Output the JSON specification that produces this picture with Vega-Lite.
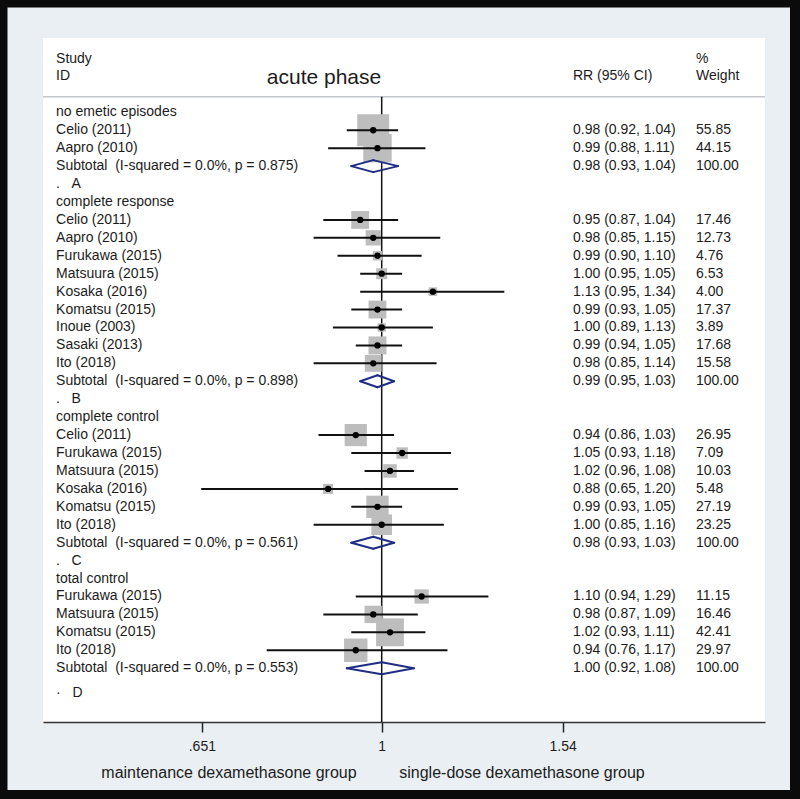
{
  "$schema": "https://vega.github.io/schema/vega-lite/v6.json",
  "width": 722,
  "height": 684,
  "autosize": {"type": "none"},
  "padding": {"left": 43, "top": 38, "right": 35, "bottom": 77},
  "background": "#e9eff3",
  "config": {
    "view": {"fill": "white", "stroke": null},
    "font": "Liberation Sans",
    "text": {"font": "Liberation Sans", "fontSize": 14, "color": "#1c1c1c"}
  },
  "datasets": {
    "one": [{"k": 1}],
    "rows": [
      {"row": 1, "label": "no emetic episodes", "kind": "group"},
      {"row": 2, "label": "Celio (2011)", "kind": "study", "rr": 0.98, "lo": 0.92, "hi": 1.04, "weight": 55.85, "ci": "0.98 (0.92, 1.04)", "wt": "55.85"},
      {"row": 3, "label": "Aapro (2010)", "kind": "study", "rr": 0.99, "lo": 0.88, "hi": 1.11, "weight": 44.15, "ci": "0.99 (0.88, 1.11)", "wt": "44.15"},
      {"row": 4, "label": "Subtotal\u00a0 (I-squared = 0.0%, p = 0.875)", "kind": "subtotal", "rr": 0.98, "lo": 0.93, "hi": 1.04, "weight": 100, "ci": "0.98 (0.93, 1.04)", "wt": "100.00"},
      {"row": 5, "label": ".\u00a0\u00a0\u00a0A", "kind": "blank"},
      {"row": 6, "label": "complete response", "kind": "group"},
      {"row": 7, "label": "Celio (2011)", "kind": "study", "rr": 0.95, "lo": 0.87, "hi": 1.04, "weight": 17.46, "ci": "0.95 (0.87, 1.04)", "wt": "17.46"},
      {"row": 8, "label": "Aapro (2010)", "kind": "study", "rr": 0.98, "lo": 0.85, "hi": 1.15, "weight": 12.73, "ci": "0.98 (0.85, 1.15)", "wt": "12.73"},
      {"row": 9, "label": "Furukawa (2015)", "kind": "study", "rr": 0.99, "lo": 0.90, "hi": 1.10, "weight": 4.76, "ci": "0.99 (0.90, 1.10)", "wt": "4.76"},
      {"row": 10, "label": "Matsuura (2015)", "kind": "study", "rr": 1.00, "lo": 0.95, "hi": 1.05, "weight": 6.53, "ci": "1.00 (0.95, 1.05)", "wt": "6.53"},
      {"row": 11, "label": "Kosaka (2016)", "kind": "study", "rr": 1.13, "lo": 0.95, "hi": 1.34, "weight": 4.00, "ci": "1.13 (0.95, 1.34)", "wt": "4.00"},
      {"row": 12, "label": "Komatsu (2015)", "kind": "study", "rr": 0.99, "lo": 0.93, "hi": 1.05, "weight": 17.37, "ci": "0.99 (0.93, 1.05)", "wt": "17.37"},
      {"row": 13, "label": "Inoue (2003)", "kind": "study", "rr": 1.00, "lo": 0.89, "hi": 1.13, "weight": 3.89, "ci": "1.00 (0.89, 1.13)", "wt": "3.89"},
      {"row": 14, "label": "Sasaki (2013)", "kind": "study", "rr": 0.99, "lo": 0.94, "hi": 1.05, "weight": 17.68, "ci": "0.99 (0.94, 1.05)", "wt": "17.68"},
      {"row": 15, "label": "Ito (2018)", "kind": "study", "rr": 0.98, "lo": 0.85, "hi": 1.14, "weight": 15.58, "ci": "0.98 (0.85, 1.14)", "wt": "15.58"},
      {"row": 16, "label": "Subtotal\u00a0 (I-squared = 0.0%, p = 0.898)", "kind": "subtotal", "rr": 0.99, "lo": 0.95, "hi": 1.03, "weight": 100, "ci": "0.99 (0.95, 1.03)", "wt": "100.00"},
      {"row": 17, "label": ".\u00a0\u00a0\u00a0B", "kind": "blank"},
      {"row": 18, "label": "complete control", "kind": "group"},
      {"row": 19, "label": "Celio (2011)", "kind": "study", "rr": 0.94, "lo": 0.86, "hi": 1.03, "weight": 26.95, "ci": "0.94 (0.86, 1.03)", "wt": "26.95"},
      {"row": 20, "label": "Furukawa (2015)", "kind": "study", "rr": 1.05, "lo": 0.93, "hi": 1.18, "weight": 7.09, "ci": "1.05 (0.93, 1.18)", "wt": "7.09"},
      {"row": 21, "label": "Matsuura (2015)", "kind": "study", "rr": 1.02, "lo": 0.96, "hi": 1.08, "weight": 10.03, "ci": "1.02 (0.96, 1.08)", "wt": "10.03"},
      {"row": 22, "label": "Kosaka (2016)", "kind": "study", "rr": 0.88, "lo": 0.65, "hi": 1.20, "weight": 5.48, "ci": "0.88 (0.65, 1.20)", "wt": "5.48"},
      {"row": 23, "label": "Komatsu (2015)", "kind": "study", "rr": 0.99, "lo": 0.93, "hi": 1.05, "weight": 27.19, "ci": "0.99 (0.93, 1.05)", "wt": "27.19"},
      {"row": 24, "label": "Ito (2018)", "kind": "study", "rr": 1.00, "lo": 0.85, "hi": 1.16, "weight": 23.25, "ci": "1.00 (0.85, 1.16)", "wt": "23.25"},
      {"row": 25, "label": "Subtotal\u00a0 (I-squared = 0.0%, p = 0.561)", "kind": "subtotal", "rr": 0.98, "lo": 0.93, "hi": 1.03, "weight": 100, "ci": "0.98 (0.93, 1.03)", "wt": "100.00"},
      {"row": 26, "label": ".\u00a0\u00a0\u00a0C", "kind": "blank"},
      {"row": 27, "label": "total control", "kind": "group"},
      {"row": 28, "label": "Furukawa (2015)", "kind": "study", "rr": 1.10, "lo": 0.94, "hi": 1.29, "weight": 11.15, "ci": "1.10 (0.94, 1.29)", "wt": "11.15"},
      {"row": 29, "label": "Matsuura (2015)", "kind": "study", "rr": 0.98, "lo": 0.87, "hi": 1.09, "weight": 16.46, "ci": "0.98 (0.87, 1.09)", "wt": "16.46"},
      {"row": 30, "label": "Komatsu (2015)", "kind": "study", "rr": 1.02, "lo": 0.93, "hi": 1.11, "weight": 42.41, "ci": "1.02 (0.93, 1.11)", "wt": "42.41"},
      {"row": 31, "label": "Ito (2018)", "kind": "study", "rr": 0.94, "lo": 0.76, "hi": 1.17, "weight": 29.97, "ci": "0.94 (0.76, 1.17)", "wt": "29.97"},
      {"row": 32, "label": "Subtotal\u00a0 (I-squared = 0.0%, p = 0.553)", "kind": "subtotal", "rr": 1.00, "lo": 0.92, "hi": 1.08, "weight": 100, "ci": "1.00 (0.92, 1.08)", "wt": "100.00"},
      {"row": 33, "label": "\u00b7\u00a0\u00a0\u00a0D", "kind": "blank"}
    ]
  },
  "data": {"name": "rows"},
  "layer": [
    {
      "data": {"name": "one"},
      "mark": {"type": "rule", "color": "#c4c8cc", "strokeWidth": 1.5},
      "encoding": {"y": {"datum": 0.13, "type": "quantitative"}}
    },
    {
      "data": {"name": "one"},
      "mark": {"type": "rule", "color": "#111111", "strokeWidth": 1.5},
      "encoding": {
        "x": {"datum": 1, "type": "quantitative"},
        "y": {"datum": 0.13, "type": "quantitative"},
        "y2": {"datum": 35.0}
      }
    },
    {
      "transform": [{"filter": "datum.kind === 'study'"}],
      "mark": {"type": "square", "filled": true, "color": "#bdbdbd", "opacity": 1},
      "encoding": {
        "x": {"field": "rr", "type": "quantitative"},
        "y": {"field": "row", "type": "quantitative"},
        "size": {"field": "weight", "type": "quantitative", "scale": {"type": "linear", "domain": [0, 100], "range": [0, 1830], "zero": true}, "legend": null}
      }
    },
    {
      "transform": [{"filter": "datum.kind === 'study'"}],
      "mark": {"type": "rule", "color": "#111111", "strokeWidth": 2},
      "encoding": {
        "x": {"field": "lo", "type": "quantitative"},
        "x2": {"field": "hi"},
        "y": {"field": "row", "type": "quantitative"}
      }
    },
    {
      "transform": [{"filter": "datum.kind === 'study'"}],
      "mark": {"type": "circle", "color": "#000000", "size": 40, "opacity": 1},
      "encoding": {
        "x": {"field": "rr", "type": "quantitative"},
        "y": {"field": "row", "type": "quantitative"}
      }
    },
    {
      "transform": [{"filter": "datum.kind === 'subtotal'"}],
      "mark": {"type": "rule", "color": "#1f2d85", "strokeWidth": 2, "strokeCap": "round", "y2Offset": -6},
      "encoding": {
        "x": {"field": "lo", "type": "quantitative"},
        "x2": {"field": "rr"},
        "y": {"field": "row", "type": "quantitative"},
        "y2": {"field": "row"}
      }
    },
    {
      "transform": [{"filter": "datum.kind === 'subtotal'"}],
      "mark": {"type": "rule", "color": "#1f2d85", "strokeWidth": 2, "strokeCap": "round", "y2Offset": 6},
      "encoding": {
        "x": {"field": "lo", "type": "quantitative"},
        "x2": {"field": "rr"},
        "y": {"field": "row", "type": "quantitative"},
        "y2": {"field": "row"}
      }
    },
    {
      "transform": [{"filter": "datum.kind === 'subtotal'"}],
      "mark": {"type": "rule", "color": "#1f2d85", "strokeWidth": 2, "strokeCap": "round", "y2Offset": -6},
      "encoding": {
        "x": {"field": "hi", "type": "quantitative"},
        "x2": {"field": "rr"},
        "y": {"field": "row", "type": "quantitative"},
        "y2": {"field": "row"}
      }
    },
    {
      "transform": [{"filter": "datum.kind === 'subtotal'"}],
      "mark": {"type": "rule", "color": "#1f2d85", "strokeWidth": 2, "strokeCap": "round", "y2Offset": 6},
      "encoding": {
        "x": {"field": "hi", "type": "quantitative"},
        "x2": {"field": "rr"},
        "y": {"field": "row", "type": "quantitative"},
        "y2": {"field": "row"}
      }
    },
    {
      "transform": [{"filter": "datum.row < 33"}],
      "mark": {"type": "text", "align": "left"},
      "encoding": {
        "x": {"datum": 0.4597, "type": "quantitative"},
        "y": {"field": "row", "type": "quantitative"},
        "text": {"field": "label"}
      }
    },
    {
      "transform": [{"filter": "datum.row === 33"}],
      "mark": {"type": "text", "align": "left", "dy": 7},
      "encoding": {
        "x": {"datum": 0.4597, "type": "quantitative"},
        "y": {"field": "row", "type": "quantitative"},
        "text": {"field": "label"}
      }
    },
    {
      "transform": [{"filter": "datum.ci != null"}],
      "mark": {"type": "text", "align": "left"},
      "encoding": {
        "x": {"datum": 1.5787, "type": "quantitative"},
        "y": {"field": "row", "type": "quantitative"},
        "text": {"field": "ci"}
      }
    },
    {
      "transform": [{"filter": "datum.wt != null"}],
      "mark": {"type": "text", "align": "left"},
      "encoding": {
        "x": {"datum": 2.1172, "type": "quantitative"},
        "y": {"field": "row", "type": "quantitative"},
        "text": {"field": "wt"}
      }
    },
    {
      "data": {"name": "one"},
      "mark": {"type": "text", "align": "left"},
      "encoding": {
        "x": {"datum": 0.4597, "type": "quantitative"},
        "y": {"datum": -2, "type": "quantitative"},
        "text": {"value": "Study"}
      }
    },
    {
      "data": {"name": "one"},
      "mark": {"type": "text", "align": "left"},
      "encoding": {
        "x": {"datum": 0.4597, "type": "quantitative"},
        "y": {"datum": -1, "type": "quantitative"},
        "text": {"value": "ID"}
      }
    },
    {
      "data": {"name": "one"},
      "mark": {"type": "text", "align": "center", "fontSize": 21},
      "encoding": {
        "x": {"datum": 0.8714, "type": "quantitative"},
        "y": {"datum": -0.9, "type": "quantitative"},
        "text": {"value": "acute phase"}
      }
    },
    {
      "data": {"name": "one"},
      "mark": {"type": "text", "align": "left"},
      "encoding": {
        "x": {"datum": 1.5787, "type": "quantitative"},
        "y": {"datum": -1, "type": "quantitative"},
        "text": {"value": "RR (95% CI)"}
      }
    },
    {
      "data": {"name": "one"},
      "mark": {"type": "text", "align": "left"},
      "encoding": {
        "x": {"datum": 2.1172, "type": "quantitative"},
        "y": {"datum": -2, "type": "quantitative"},
        "text": {"value": "%"}
      }
    },
    {
      "data": {"name": "one"},
      "mark": {"type": "text", "align": "left"},
      "encoding": {
        "x": {"datum": 2.1172, "type": "quantitative"},
        "y": {"datum": -1, "type": "quantitative"},
        "text": {"value": "Weight"}
      }
    },
    {
      "data": {"name": "one"},
      "mark": {"type": "text", "align": "center", "fontSize": 16},
      "encoding": {
        "x": {"datum": 0.69456, "type": "quantitative"},
        "y": {"datum": 37.845, "type": "quantitative"},
        "text": {"value": "maintenance dexamethasone group"}
      }
    },
    {
      "data": {"name": "one"},
      "mark": {"type": "text", "align": "center", "fontSize": 16},
      "encoding": {
        "x": {"datum": 1.39773, "type": "quantitative"},
        "y": {"datum": 37.845, "type": "quantitative"},
        "text": {"value": "single-dose dexamethasone group"}
      }
    },
    {
      "data": {"name": "one"},
      "mark": {"type": "rect", "filled": false, "stroke": "#0b0b0b", "strokeWidth": 15},
      "encoding": {
        "x": {"datum": 0.40213, "type": "quantitative"},
        "x2": {"datum": 2.6976},
        "y": {"datum": -5.2626, "type": "quantitative"},
        "y2": {"datum": 39.211}
      }
    }
  ],
  "resolve": {"scale": {"x": "shared", "y": "shared"}},
  "encoding": {
    "x": {
      "type": "quantitative",
      "scale": {"type": "log", "domain": [0.4456, 2.4963], "nice": false, "zero": false},
      "axis": {
        "values": [0.651, 1, 1.54],
        "labelExpr": "datum.value < 0.9 ? '.651' : (datum.value < 1.2 ? '1' : '1.54')",
        "title": null,
        "grid": false,
        "tickSize": 10,
        "tickWidth": 1.5,
        "tickColor": "#222222",
        "domainColor": "#333333",
        "domainWidth": 1.5,
        "labelFontSize": 14,
        "labelColor": "#1c1c1c",
        "labelPadding": 7,
        "labelFont": "Liberation Sans"
      }
    },
    "y": {
      "type": "quantitative",
      "scale": {"domain": [-3.144, 35.0], "reverse": true, "nice": false, "zero": false},
      "axis": null
    }
  }
}
